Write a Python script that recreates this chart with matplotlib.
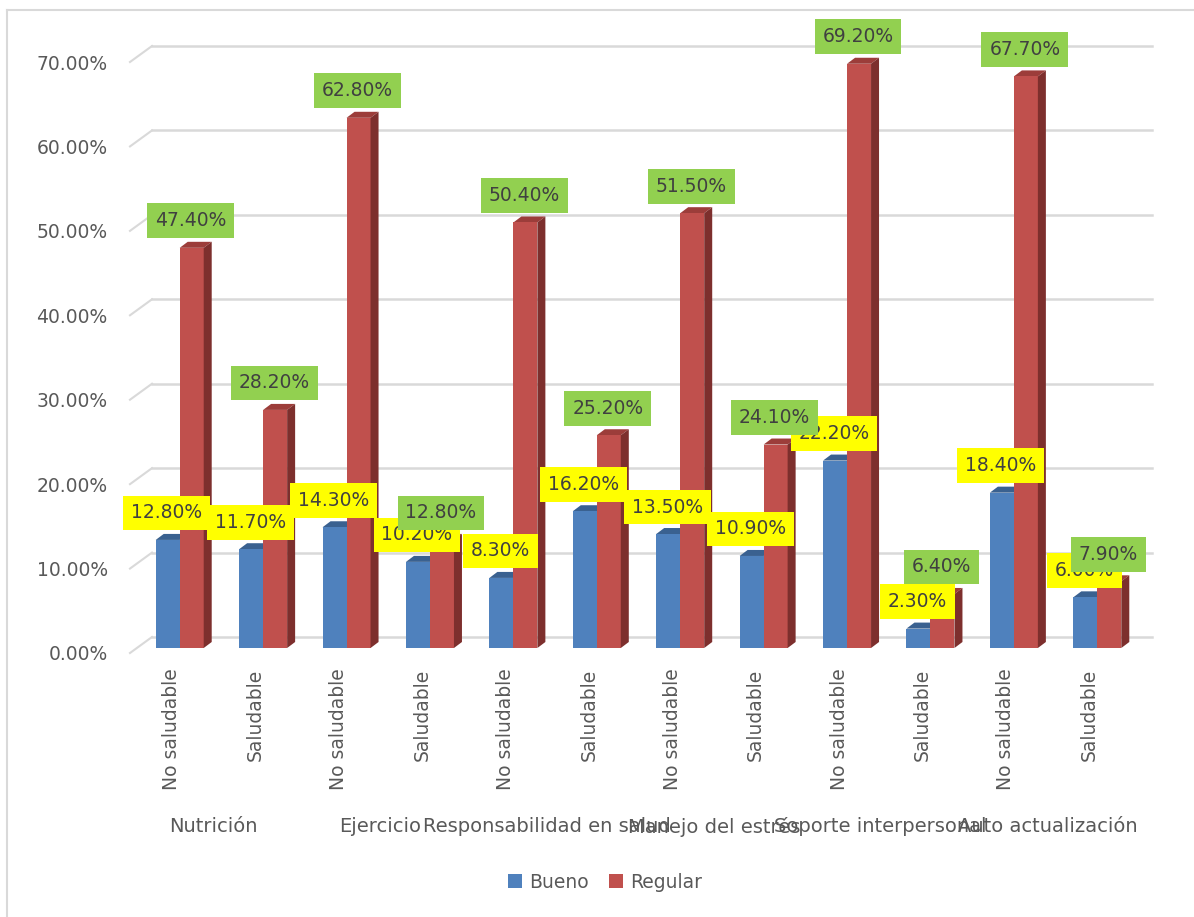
import matplotlib
matplotlib.use("Agg")
import matplotlib.pyplot as plt
from matplotlib.patches import Polygon, Rectangle, Patch
from matplotlib.lines import Line2D

# ---- data -------------------------------------------------------------
groups = ["Nutrición", "Ejercicio", "Responsabilidad en salud",
          "Manejo del estrés", "Soporte interpersonal", "Auto actualización"]
subcats = ["No saludable", "Saludable"] * 6
bueno = [12.8, 11.7, 14.3, 10.2, 8.3, 16.2, 13.5, 10.9, 22.2, 2.3, 18.4, 6.0]
regular = [47.4, 28.2, 62.8, 12.8, 50.4, 25.2, 51.5, 24.1, 69.2, 6.4, 67.7, 7.9]
yticks = [0, 10, 20, 30, 40, 50, 60, 70]
series_names = ["Bueno", "Regular"]

# ---- styling ----------------------------------------------------------
BLUE, BLUE_TOP = "#4F81BD", "#3A6190"
RED, RED_TOP, RED_SIDE = "#C0504D", "#9C3D3A", "#7D2F2D"
YELLOW, GREEN = "#FFFF00", "#92D050"
GRID = "#D9D9D9"
TXT, LBL = "#595959", "#404040"
FS = 13.5

W, H = 1194, 917
fig = plt.figure(figsize=(W / 100, H / 100), dpi=100)
fig.patch.set_facecolor("white")

# front plane of the plot area, in pixels
L, R, Y0, Y70 = 130, 1131, 653, 62
ax = fig.add_axes([L / W, (H - Y0) / H, (R - L) / W, (Y0 - Y70) / H])
n = len(bueno)
ax.set_xlim(-0.5, n - 0.5)
ax.set_ylim(0, 70)
for s in ax.spines.values():
    s.set_visible(False)
ax.set_facecolor("none")

ux = n / (R - L)        # data units per pixel (x)
uy = 70 / (Y0 - Y70)    # data units per pixel (y)

# depth offsets (pixels)
WALL_DX, WALL_DY = 22, 16
BAR_DX, BAR_DY = 8, 5
SIDE_DX, SIDE_DY = 8, 6
BAR_W = 24 * ux

# back wall gridlines with the receding left edge
for t in yticks:
    xb = -0.5 + WALL_DX * ux
    yb = t + WALL_DY * uy
    ax.add_line(Line2D([-0.5, xb], [t, yb], color=GRID, lw=1.5,
                       clip_on=False, zorder=1))
    ax.add_line(Line2D([xb, n - 0.5 + 21 * ux], [yb, yb], color=GRID, lw=1.8,
                       clip_on=False, zorder=1))

ax.set_yticks(yticks, [f"{t:.2f}%" for t in yticks])
ax.set_xticks(range(n), subcats, rotation=90)
ax.tick_params(axis="y", length=0, pad=16, labelsize=FS, labelcolor=TXT)
ax.tick_params(axis="x", length=0, pad=11, labelsize=FS, labelcolor=TXT)
for lab in ax.get_xticklabels():
    lab.set_va("top")

ox, oy = BAR_DX * ux, BAR_DY * uy
sx, sy = SIDE_DX * ux, SIDE_DY * uy


def bar3d(x0, v, front, top, side=None):
    x1 = x0 + BAR_W
    y1 = oy + v
    ax.add_patch(Polygon([(x0, y1), (x1, y1), (x1 + sx, y1 + sy), (x0 + sx, y1 + sy)],
                         closed=True, fc=top, ec="none", zorder=2, clip_on=False))
    ax.add_patch(Rectangle((x0, oy), BAR_W, v, fc=front, ec="none", zorder=2.1,
                           clip_on=False))
    if side is not None:
        ax.add_patch(Polygon([(x1, oy), (x1, y1), (x1 + sx, y1 + sy), (x1 + sx, oy + sy)],
                             closed=True, fc=side, ec="none", zorder=2.1, clip_on=False))


for i in range(n):
    bar3d(i - BAR_W + ox, bueno[i], BLUE, BLUE_TOP)
    bar3d(i + ox, regular[i], RED, RED_TOP, RED_SIDE)

# data labels: blue series first, red series drawn on top
LABEL_GAP = 27 * uy
for k, (vals, col, xo) in enumerate([(bueno, YELLOW, -BAR_W / 2), (regular, GREEN, BAR_W / 2)]):
    for i, v in enumerate(vals):
        ax.text(i + ox + xo - 1 * ux, oy + v + LABEL_GAP, f"{v:.2f}%",
                ha="center", va="center", fontsize=FS, color=LBL,
                zorder=5 + k + i * 0.01, clip_on=False,
                bbox=dict(boxstyle="square,pad=0.42", fc=col, ec="none"))

# group labels under each pair of categories
for g, name in enumerate(groups):
    ax.text(2 * g + 0.5, (Y0 - 827) * uy, name, ha="center", va="center",
            fontsize=14, color=TXT, clip_on=False)

# legend
handles = [Patch(fc=BLUE, ec="none"), Patch(fc=RED, ec="none")]
fig.legend(handles, series_names, loc="center", bbox_to_anchor=(605 / W, 1 - 882 / H),
           ncol=2, frameon=False, fontsize=FS, labelcolor=TXT,
           handlelength=0.75, handleheight=0.75, handletextpad=0.35,
           columnspacing=1.1)

# chart border (top and left edges)
fig.add_artist(Line2D([7 / W, 7 / W], [0, 1 - 10 / H], transform=fig.transFigure,
                      color=GRID, lw=1.5))
fig.add_artist(Line2D([7 / W, 1], [1 - 10 / H, 1 - 10 / H], transform=fig.transFigure,
                      color=GRID, lw=1.5))

fig.savefig("out.png", dpi=100)
